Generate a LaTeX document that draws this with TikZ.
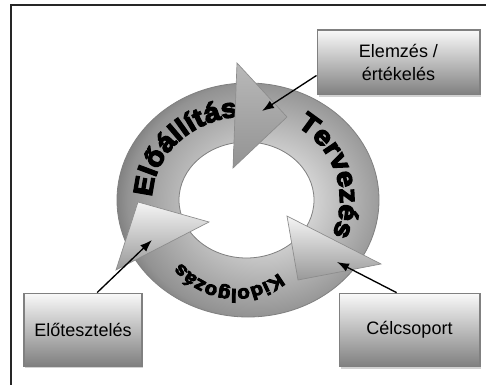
\documentclass[tikz,border=0pt]{standalone}
\usepackage{fontspec}
\setmainfont{Liberation Sans}
\newfontfamily\ringfont[FakeStretch=1.1,BoldFeatures={FakeBold=5}]{Liberation Sans}
\usetikzlibrary{decorations.text,shadows,arrows.meta}

\pgfdeclareradialshading{ringshade}{\pgfpoint{4bp}{0bp}}{%
  color(0bp)=(gray!5); color(25bp)=(gray!85); color(30bp)=(gray!80!black); color(50bp)=(gray!80!black)}

\tikzset{
  boxnode/.style={draw=gray,line width=1pt,top color=gray!5,bottom color=gray,
    align=center,font=\fontsize{13.5}{17}\selectfont,anchor=center,
    drop shadow={shadow xshift=1pt,shadow yshift=-1.5pt,fill=gray!70}},
  pointer/.style={-{Latex[length=9pt,width=6.5pt]},line width=1pt},
  tri/.style={draw=gray!90,line width=.5pt}
}

\begin{document}
\begin{tikzpicture}[x=.75pt,y=-.75pt]
   \useasboundingbox (0,0) rectangle (486,385);
   \fill[white] (0,0) rectangle (486,385);
   % frame
   \draw[line width=1.5pt,gray!30!black] (11,385) -- (11,5) -- (486,5);

   % ring
   \shade[even odd rule,draw=gray,line width=.6pt,shading=ringshade]
     (248,200) ellipse [x radius=131,y radius=117]
     (246.5,200) ellipse [x radius=67.5,y radius=58];

   % text on the ring
   \path[decorate,decoration={text along path,
     text={|\ringfont\bfseries\fontsize{20}{20}\selectfont|Előállítás}}]
     (248,200) ++(-178:96 and 84) arc [start angle=-178,end angle=-85,x radius=96,y radius=84];
   \path[decorate,decoration={text along path,
     text={|\ringfont\bfseries\fontsize{20}{20}\selectfont|Tervezés}}]
     (248,200) ++(-58:92 and 87) arc [start angle=-58,end angle=40,x radius=92,y radius=87];
   \path[decorate,decoration={text along path,
     text={|\ringfont\bfseries\fontsize{14}{14}\selectfont|Kidolgozás}}]
     (235,200) ++(55:76 and 89) arc [start angle=55,end angle=165,x radius=76,y radius=89];

   % triangles
   \shade[tri,top color=gray!55,bottom color=gray!85] (237,63) -- (287,117) -- (233,168) -- cycle;
   \shade[tri,top color=gray!8,bottom color=gray!80] (138,202) -- (209,222) -- (116,270) -- cycle;
   \shade[tri,top color=gray!8,bottom color=gray!80] (287,216) -- (381,264) -- (298,280) -- cycle;

   % boxes
   \node[boxnode,minimum width=122pt,minimum height=48.5pt] (elem) at (398.5,62.5) {Elemzés /\\értékelés};
   \node[boxnode,minimum width=88.5pt,minimum height=54.5pt] (pretest) at (83,329.5) {Előtesztelés};
   \node[boxnode,minimum width=105.5pt,minimum height=55pt] (target) at (409.5,330) {Célcsoport};

   \coordinate (tipa) at (262,111);
   \coordinate (tipb) at (152,240);
   \coordinate (tipc) at (337,262);

   \draw[pointer] (elem.189) -- (tipa);
   \draw[pointer] (pretest.69) -- (tipb);
   \draw[pointer] (target.109) -- (tipc);
\end{tikzpicture}
\end{document}
